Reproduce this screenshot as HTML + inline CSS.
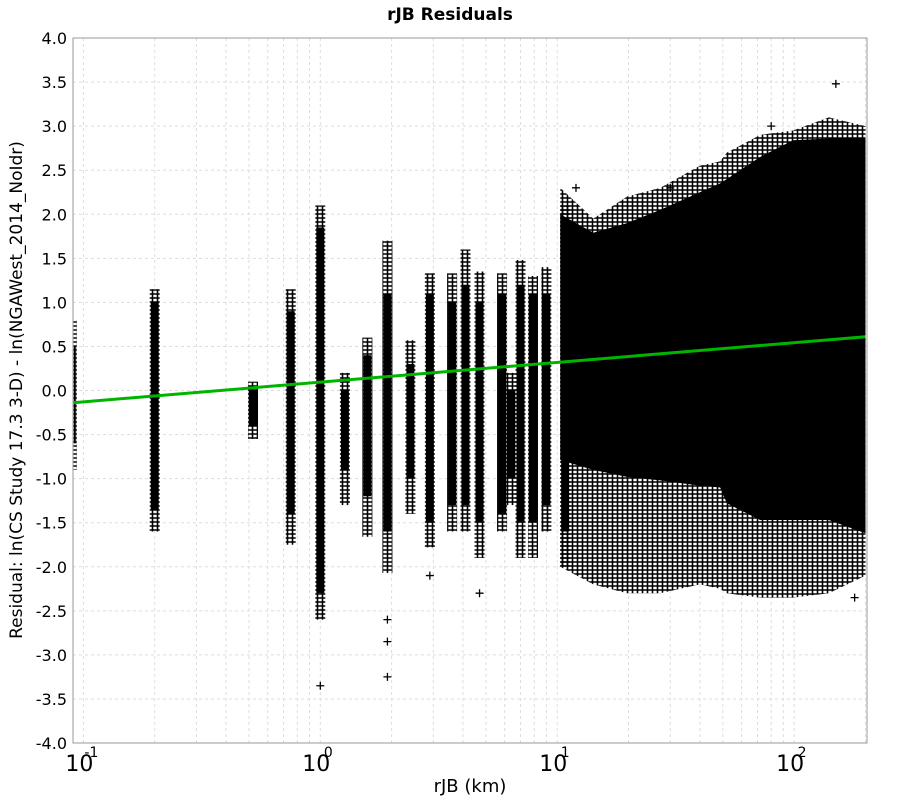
<!DOCTYPE html>
<html><head><meta charset="utf-8"><style>
html,body{margin:0;padding:0;background:#fff;}
svg{display:block;font-family:"DejaVu Sans","Liberation Sans",sans-serif;}
</style></head><body>
<svg id="chart" width="900" height="800" viewBox="0 0 900 800" xmlns="http://www.w3.org/2000/svg">
<defs>
<pattern id="plusPat" width="5" height="4" patternUnits="userSpaceOnUse">
<path d="M0 2H5M2.5 0V4" stroke="#000" stroke-width="1.6"/>
</pattern>
<clipPath id="plotClip"><rect x="73" y="38" width="794" height="705"/></clipPath>
</defs>
<text x="450" y="20" text-anchor="middle" font-size="17" font-weight="bold">rJB Residuals</text>
<g id="grid"></g>
<g id="marks" clip-path="url(#plotClip)"></g>
<g id="fit" clip-path="url(#plotClip)"></g>
<rect x="73" y="38" width="794" height="705" fill="none" stroke="#999" stroke-width="1"/>
<g id="yticks"></g>
<g id="xticks"></g>
<text x="470" y="792" text-anchor="middle" font-size="18">rJB (km)</text>
<text transform="translate(22,390) rotate(-90)" text-anchor="middle" font-size="17">Residual: ln(CS Study 17.3 3-D) - ln(NGAWest_2014_NoIdr)</text>
</svg>
<script>
// ---- data ----
const yTicks = [4.0,3.5,3.0,2.5,2.0,1.5,1.0,0.5,0.0,-0.5,-1.0,-1.5,-2.0,-2.5,-3.0,-3.5,-4.0];
const xDecades = [-1,0,1,2];
const colRjb     = [0.092,0.2,0.52,0.75,1.0,1.27,1.58,1.92,2.4,2.9,3.6,4.1,4.7,5.85,6.4,7.0,7.9,9.0,10.8];
const colTop     = [0.8,1.15,0.1,1.15,2.1,0.2,0.6,1.7,0.57,1.33,1.33,1.6,1.35,1.33,0.2,1.48,1.3,1.4,2.1];
const colBot     = [-0.9,-1.6,-0.55,-1.75,-2.6,-1.3,-1.66,-2.07,-1.4,-1.78,-1.6,-1.6,-1.9,-1.6,-1.3,-1.9,-1.9,-1.6,-2.0];
const colCoreTop = [0.5,1.0,0.0,0.9,1.85,0.0,0.4,1.1,0.3,1.1,1.0,1.2,1.0,1.1,0.0,1.2,1.1,1.1,1.6];
const colCoreBot = [-0.6,-1.35,-0.4,-1.4,-2.3,-0.9,-1.2,-1.6,-1.0,-1.5,-1.3,-1.3,-1.5,-1.4,-1.0,-1.5,-1.5,-1.3,-1.6];
const envRjb     = [10.3,14.2,19.7,27.2,40,48.7,52,71.8,99,140,200];
const envCoreTop = [2.0,1.79,1.9,2.05,2.25,2.35,2.4,2.65,2.84,2.86,2.86];
const envCoreBot = [-0.79,-0.9,-0.98,-1.02,-1.08,-1.1,-1.28,-1.47,-1.47,-1.47,-1.62];
const envOutTop  = [2.3,1.95,2.2,2.3,2.55,2.6,2.7,2.9,2.95,3.1,3.0];
const envOutBot  = [-2.0,-2.2,-2.3,-2.3,-2.2,-2.25,-2.3,-2.35,-2.35,-2.3,-2.1];
const outRjb = [1.0,1.92,1.92,1.92,150,2.9,4.7,12,30,80,180];
const outRes = [-3.35,-2.6,-2.85,-3.25,3.48,-2.1,-2.3,2.3,2.3,3.0,-2.35];
const fitRjb = [0.09,200];
const fitA = 0.095, fitB = 0.224;

// ---- axes ----
const X0=73, X1=867, Y0=38, Y1=743;
const LMIN=Math.log10(0.0904), LMAX=Math.log10(203);
function sx(r){return X0+(Math.log10(r)-LMIN)/(LMAX-LMIN)*(X1-X0);}
function sy(v){return Y0+(4-v)/8*(Y1-Y0);}
const NS="http://www.w3.org/2000/svg";
function mk(tag,attrs,parent){const e=document.createElementNS(NS,tag);for(const k in attrs)e.setAttribute(k,attrs[k]);parent.appendChild(e);return e;}

const grid=document.getElementById('grid');
yTicks.forEach(v=>{
  const l=mk('line',{x1:X0,x2:X1,y1:sy(v),y2:sy(v),stroke:'#ddd','stroke-dasharray':'3,3'},grid);
  
  
});
xDecades.forEach(d=>{
  for(let m=1;m<10;m++){
    const r=m*Math.pow(10,d);const x=sx(r);
    if(x<X0||x>X1)continue;
    const l=mk('line',{x1:x,x2:x,y1:Y0,y2:Y1,stroke:'#ddd','stroke-dasharray':'3,3'},grid);
    
    
  }
});
const yt=document.getElementById('yticks');
yTicks.forEach(v=>{
  const t=mk('text',{x:67,y:sy(v)+6,'text-anchor':'end','font-size':'16'},yt);
  t.textContent=v.toFixed(1);
  
  
});
const xt=document.getElementById('xticks');
xDecades.forEach(d=>{
  const x=sx(Math.pow(10,d));
  const t=mk('text',{x:x-4,y:771,'text-anchor':'middle','font-size':'22'},xt);
  t.textContent='10';
  
  
  const s=mk('text',{x:x+8,y:757,'text-anchor':'middle','font-size':'14'},xt);
  s.textContent=String(d);
  
  
});

// ---- marks ----
const marks=document.getElementById('marks');
let ptsO=envRjb.map((r,i)=>sx(r)+','+sy(envOutTop[i]));
ptsO=ptsO.concat(envRjb.map((r,i)=>sx(r)+','+sy(envOutBot[i])).reverse());
const fo=mk('polygon',{points:ptsO.join(' '),fill:'url(#plusPat)'},marks);


let ptsC=envRjb.map((r,i)=>sx(r)+','+sy(envCoreTop[i]));
ptsC=ptsC.concat(envRjb.map((r,i)=>sx(r)+','+sy(envCoreBot[i])).reverse());
const fc=mk('polygon',{points:ptsC.join(' '),fill:'#000'},marks);


colRjb.forEach((r,i)=>{
  const x=sx(r);const w=(i===0)?4:10;
  const o=mk('rect',{x:x-w/2,y:sy(colTop[i]),width:w,height:sy(colBot[i])-sy(colTop[i]),fill:'url(#plusPat)'},marks);
  
  
  const c=mk('rect',{x:x-w/2+1,y:sy(colCoreTop[i]),width:w-2,height:sy(colCoreBot[i])-sy(colCoreTop[i]),fill:'#000'},marks);
  
  
});
outRjb.forEach((r,i)=>{
  const x=sx(r),y=sy(outRes[i]);
  const p=mk('path',{d:`M${x-4} ${y}H${x+4}M${x} ${y-4}V${y+4}`,stroke:'#000','stroke-width':'1.3'},marks);
  
  
});
const fit=document.getElementById('fit');
const fl=mk('line',{x1:sx(fitRjb[0]),y1:sy(fitA+fitB*Math.log10(fitRjb[0])),x2:sx(fitRjb[1]),y2:sy(fitA+fitB*Math.log10(fitRjb[1])),stroke:'#00b400','stroke-width':'3'},fit);


</script>
</body></html>
